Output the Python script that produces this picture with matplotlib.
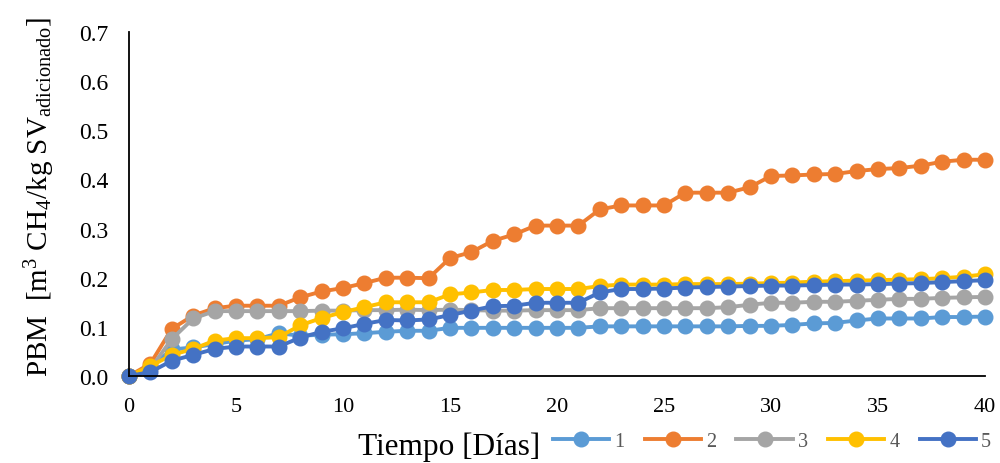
import matplotlib
matplotlib.use("Agg")
import matplotlib.pyplot as plt

plt.rcParams['font.family'] = ['Liberation Serif', 'DejaVu Serif']
plt.rcParams['mathtext.fontset'] = 'custom'
plt.rcParams['mathtext.rm'] = 'Liberation Serif'
plt.rcParams['mathtext.it'] = 'Liberation Serif:italic'

days = list(range(0, 41))

s1 = [0.0, 0.018, 0.054, 0.058, 0.065, 0.072, 0.075, 0.087, 0.082, 0.084, 0.085,
      0.087, 0.090, 0.092, 0.092, 0.098, 0.098, 0.098, 0.098, 0.098, 0.098,
      0.098, 0.101, 0.101, 0.101, 0.101, 0.101, 0.101, 0.101, 0.102, 0.102,
      0.104, 0.107, 0.108, 0.113, 0.117, 0.117, 0.117, 0.120, 0.120, 0.121]
s2 = [0.0, 0.025, 0.096, 0.123, 0.138, 0.143, 0.143, 0.143, 0.160, 0.172, 0.179,
      0.189, 0.200, 0.200, 0.199, 0.240, 0.252, 0.275, 0.288, 0.306, 0.306,
      0.306, 0.339, 0.347, 0.347, 0.347, 0.373, 0.373, 0.373, 0.384, 0.407,
      0.408, 0.410, 0.411, 0.417, 0.421, 0.423, 0.428, 0.436, 0.440, 0.440]
s3 = [0.0, 0.015, 0.075, 0.117, 0.132, 0.132, 0.132, 0.132, 0.132, 0.133, 0.133,
      0.134, 0.134, 0.135, 0.134, 0.135, 0.134, 0.133, 0.133, 0.134, 0.134,
      0.134, 0.138, 0.138, 0.138, 0.138, 0.138, 0.138, 0.140, 0.145, 0.149,
      0.149, 0.151, 0.151, 0.153, 0.155, 0.157, 0.157, 0.159, 0.160, 0.161]
s4 = [0.0, 0.020, 0.043, 0.055, 0.072, 0.077, 0.077, 0.079, 0.103, 0.118, 0.130,
      0.140, 0.150, 0.150, 0.150, 0.166, 0.170, 0.175, 0.175, 0.177, 0.177,
      0.177, 0.183, 0.186, 0.186, 0.186, 0.187, 0.187, 0.187, 0.188, 0.189,
      0.190, 0.192, 0.193, 0.194, 0.195, 0.196, 0.197, 0.199, 0.202, 0.207]
s5 = [0.0, 0.008, 0.031, 0.043, 0.055, 0.060, 0.060, 0.060, 0.078, 0.090, 0.097,
      0.106, 0.114, 0.113, 0.115, 0.124, 0.133, 0.142, 0.143, 0.149, 0.149,
      0.149, 0.170, 0.177, 0.177, 0.178, 0.180, 0.181, 0.182, 0.183, 0.184,
      0.184, 0.185, 0.186, 0.186, 0.187, 0.188, 0.189, 0.191, 0.193, 0.195]

series = [s1, s2, s3, s4, s5]
labels = ['1', '2', '3', '4', '5']
colors = ['#5B9BD5', '#ED7D31', '#A5A5A5', '#FFC000', '#4472C4']

x_ticks = [0, 5, 10, 15, 20, 25, 30, 35, 40]
y_ticks = [0.0, 0.1, 0.2, 0.3, 0.4, 0.5, 0.6, 0.7]

fig = plt.figure(figsize=(10, 4.64), dpi=100)
ax = fig.add_axes([0.129, 0.1875, 0.856, 0.7415])

for vals, lab, col in zip(series, labels, colors):
    ax.plot(days, vals, color=col, lw=2.8, marker='o', markersize=10.5,
            label=lab, clip_on=False)

ax.set_xlim(0, 40)
ax.set_ylim(0, 0.7)
ax.set_xticks(x_ticks)
ax.set_yticks(y_ticks)
ax.set_yticklabels([f'{v:.1f}' for v in y_ticks])
ax.tick_params(axis='x', length=0, labelsize=16, pad=15)
ax.tick_params(axis='y', length=0, labelsize=17, pad=15)
for s in ['top', 'right']:
    ax.spines[s].set_visible(False)
for s in ['left', 'bottom']:
    ax.spines[s].set_linewidth(1.3)
    ax.spines[s].set_color('black')

fig.text(0.449, 0.037, 'Tiempo [Días]', fontsize=22.5, ha='center', va='center')
fig.text(0.04, 0.575, r'PBM  [m$^3$ CH$_4$/kg SV$_{\mathrm{adicionado}}$]',
         fontsize=21, rotation=90, ha='center', va='center')

leg = fig.legend(loc='center', bbox_to_anchor=(0.772, 0.047), ncol=5,
                 frameon=False, fontsize=14.5, handlelength=2.8,
                 handletextpad=0.25, columnspacing=1.0, markerscale=1.0)
for t in leg.get_texts():
    t.set_color('#595959')

fig.savefig('out.png', dpi=100)
